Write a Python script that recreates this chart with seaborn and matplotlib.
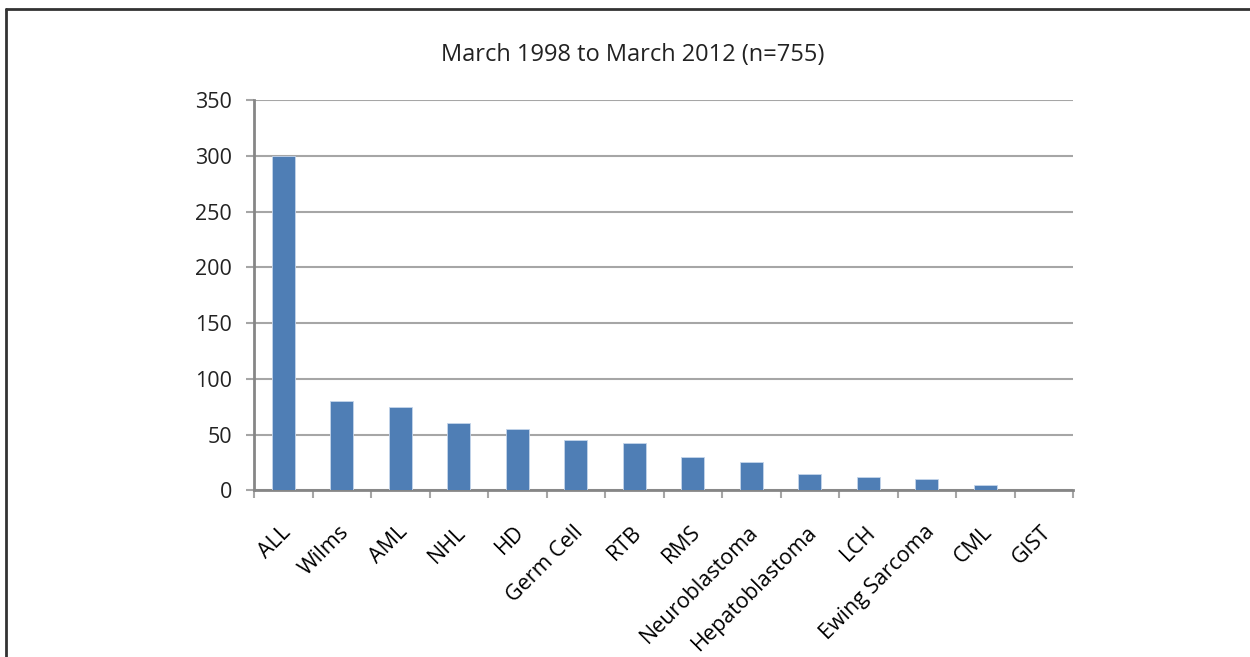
import matplotlib
matplotlib.use("Agg")
import matplotlib.pyplot as plt
import matplotlib.transforms as mtransforms
from matplotlib.lines import Line2D
import seaborn as sns
import pandas as pd

categories = ["ALL", "Wilms", "AML", "NHL", "HD", "Germ Cell", "RTB", "RMS",
              "Neuroblastoma", "Hepatoblastoma", "LCH", "Ewing Sarcoma", "CML", "GIST"]
counts = [300, 80, 75, 60, 55, 45, 42, 30, 25, 15, 12, 10, 5, 0]
y_ticks = [0, 50, 100, 150, 200, 250, 300, 350]
title = "March 1998 to March 2012 (n=755)"

sns.set_theme(style="white")
plt.rcParams["font.family"] = ["Open Sans", "DejaVu Sans"]

df = pd.DataFrame({"Diagnosis": categories, "Count": counts})

fig = plt.figure(figsize=(12.5, 6.57), dpi=100)
ax = fig.add_axes([0.2032, 0.2537, 0.8584 - 0.2032, 0.8478 - 0.2537])

sns.barplot(data=df, x="Diagnosis", y="Count", color="#4F7EB5", width=0.4,
            saturation=1, ax=ax, edgecolor="#C5D5EA", linewidth=0.6, zorder=3)

ax.set_xlim(-0.5, len(categories) - 0.5)
ax.set_ylim(0, 350)
ax.set_yticks(y_ticks)
ax.set_yticklabels([str(v) for v in y_ticks], fontsize=15.5, color="#222222")
ax.yaxis.grid(True, color="#A6A6A6", linewidth=1.5, zorder=0)
ax.set_axisbelow(True)
ax.set_xlabel("")
ax.set_ylabel("")

for s in ["top", "right"]:
    ax.spines[s].set_visible(False)
for s in ["left", "bottom"]:
    ax.spines[s].set_color("#868686")
    ax.spines[s].set_linewidth(2)

ax.tick_params(axis="y", which="major", left=True, length=6, width=1.5,
               color="#A6A6A6", pad=10)
ax.set_xticks(range(len(categories)))
ax.set_xticks([i - 0.5 for i in range(len(categories) + 1)], minor=True)
ax.tick_params(axis="x", which="major", bottom=False, length=0, pad=28)
ax.tick_params(axis="x", which="minor", bottom=True, length=6, width=1.5,
               color="#A6A6A6")
ax.set_xticklabels(categories, rotation=45, ha="right", va="center",
                   rotation_mode="anchor", fontsize=15.5, color="black")
offset = mtransforms.ScaledTranslation(3 / 72, 0, fig.dpi_scale_trans)
for lbl in ax.get_xticklabels():
    lbl.set_transform(lbl.get_transform() + offset)

fig.text(0.5064, 1 - 55 / 657, title, ha="center", va="center",
         fontsize=17, color="#222222")

# chart frame (left and top edges)
fig.add_artist(Line2D([6 / 1250, 6 / 1250], [0, 1 - 9 / 657],
                      transform=fig.transFigure, color="#333333", linewidth=2))
fig.add_artist(Line2D([6 / 1250, 1], [1 - 9 / 657, 1 - 9 / 657],
                      transform=fig.transFigure, color="#333333", linewidth=2))

fig.savefig("out.png", dpi=100, facecolor="white")
